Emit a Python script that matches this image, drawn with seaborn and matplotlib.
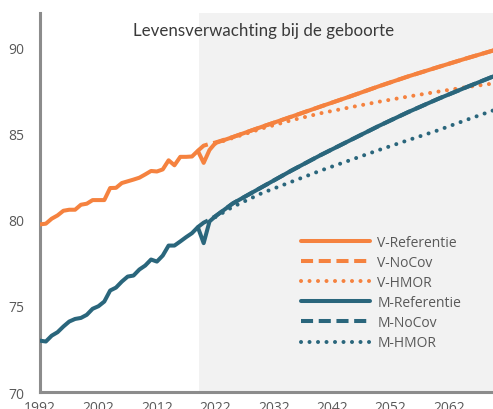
import seaborn as sns
import matplotlib.pyplot as plt
import pandas as pd

# historie 1992-2020 + projectie (referentie)
jaren_ref = list(range(1992, 2021)) + [2021, 2022, 2025, 2030, 2035, 2040, 2045, 2050, 2055, 2060, 2065, 2070]
v_ref = [79.73, 79.77, 80.06, 80.25, 80.52, 80.58, 80.58, 80.87, 80.93, 81.14,
         81.14, 81.14, 81.84, 81.85, 82.13, 82.23, 82.33, 82.44, 82.63, 82.83,
         82.80, 82.92, 83.45, 83.16, 83.65, 83.65, 83.67, 84.00, 83.30,
         84.05, 84.45, 84.80, 85.40, 85.98, 86.57, 87.15, 87.75, 88.32, 88.85, 89.37, 89.87]
m_ref = [72.98, 72.93, 73.27, 73.47, 73.80, 74.09, 74.24, 74.30, 74.48, 74.83,
         74.98, 75.25, 75.89, 76.06, 76.41, 76.70, 76.76, 77.11, 77.34, 77.69,
         77.57, 77.92, 78.50, 78.50, 78.74, 78.99, 79.22, 79.57, 78.64,
         79.90, 80.20, 80.95, 81.90, 82.85, 83.75, 84.60, 85.45, 86.25, 87.00, 87.70, 88.38]

# scenario zonder covid
jaren_nocov = [2019, 2020, 2021, 2022, 2025, 2030, 2035, 2040, 2045, 2050, 2055, 2060, 2065, 2070]
v_nocov = [84.00, 84.30, 84.40, 84.48, 84.80, 85.40, 85.98, 86.57, 87.15, 87.75, 88.32, 88.85, 89.37, 89.87]
m_nocov = [79.57, 79.83, 80.00, 80.20, 80.95, 81.90, 82.85, 83.75, 84.60, 85.45, 86.25, 87.00, 87.70, 88.38]

# scenario HMOR
jaren_hmor = [2022, 2025, 2030, 2035, 2040, 2045, 2050, 2055, 2060, 2065, 2070]
v_hmor = [84.42, 84.75, 85.30, 85.77, 86.18, 86.52, 86.85, 87.15, 87.43, 87.70, 87.93]
m_hmor = [80.15, 80.75, 81.55, 82.20, 82.85, 83.45, 84.05, 84.62, 85.18, 85.80, 86.40]

oranje = '#F5823F'
blauw = '#2A667C'
grijs_tekst = '#595959'

sns.set_style('white')
plt.rcParams['font.family'] = ['Open Sans', 'DejaVu Sans']

fig = plt.figure(figsize=(4.93, 4.10), dpi=100)
ax = fig.add_axes([40 / 493, 17 / 410, 453 / 493, 379 / 410])

ax.axvspan(2019.2, 2075, color='#F2F2F2', lw=0, zorder=0)

lw = 2.9
stijl_dash = (0, (3, 1.4))
stijl_dot = (0, (0.01, 2.1))

series = [
    ('V-Referentie', jaren_ref, v_ref, oranje, '-'),
    ('V-NoCov', jaren_nocov, v_nocov, oranje, stijl_dash),
    ('V-HMOR', jaren_hmor, v_hmor, oranje, stijl_dot),
    ('M-Referentie', jaren_ref, m_ref, blauw, '-'),
    ('M-NoCov', jaren_nocov, m_nocov, blauw, stijl_dash),
    ('M-HMOR', jaren_hmor, m_hmor, blauw, stijl_dot),
]
for naam, jaren, waarden, kleur, stijl in series:
    df = pd.DataFrame({'jaar': jaren, 'waarde': waarden})
    sns.lineplot(data=df, x='jaar', y='waarde', ax=ax, color=kleur, lw=lw,
                 linestyle=stijl, label=naam, dash_capstyle='round' if stijl is stijl_dot else 'butt',
                 solid_joinstyle='round', zorder=4 if stijl == '-' else 3)

ax.set_xlim(1992, 2069.5)
ax.set_ylim(70, 92)
ax.set_xticks(range(1992, 2063, 10))
ax.set_yticks(range(70, 91, 5))
ax.set_xlabel('')
ax.set_ylabel('')

for s in ['top', 'right']:
    ax.spines[s].set_visible(False)
for s in ['left', 'bottom']:
    ax.spines[s].set_color('#8C8C8C')
    ax.spines[s].set_linewidth(2.2)
ax.tick_params(axis='both', colors='#8C8C8C', labelcolor=grijs_tekst, labelsize=10,
               direction='out', width=1.5)
ax.tick_params(axis='y', length=4, pad=7)
ax.tick_params(axis='x', length=3, pad=3)

fig.text(264 / 493, 1 - 36 / 410, 'Levensverwachting bij de geboorte', ha='center', va='baseline',
         fontsize=12.2, color='#3A3A3A', family='Lato')

ax.legend(loc='upper left', bbox_to_anchor=(0.576, 0.415), frameon=False, borderpad=0,
          handlelength=5.0, handletextpad=0.5, labelspacing=0.37, fontsize=10,
          labelcolor=grijs_tekst, borderaxespad=0)

fig.savefig('out.png', dpi=100)
